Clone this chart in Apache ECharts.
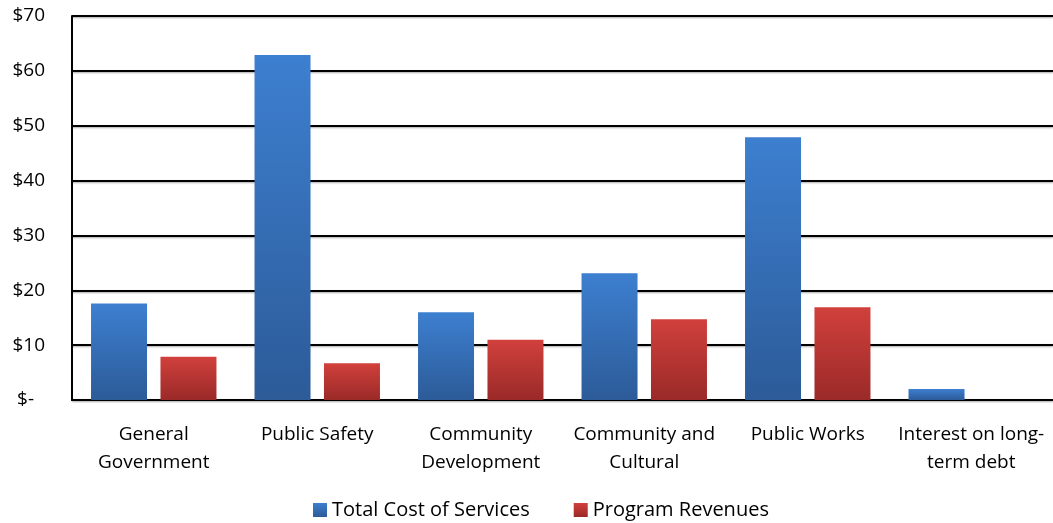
<!DOCTYPE html>
<html><head><meta charset="utf-8">
<script src="https://cdn.jsdelivr.net/npm/echarts@6/dist/echarts.min.js"></script>
<style>html,body{margin:0;padding:0;background:#fff}#c{width:1053px;height:523px}</style>
</head><body><div id="c"></div>
<script>
const categories = ["General\nGovernment", "Public Safety", "Community\nDevelopment", "Community and\nCultural", "Public Works", "Interest on long-\nterm debt"];
const totalCost = [17.6, 62.9, 16.0, 23.1, 47.9, 2.0];
const programRevenues = [7.9, 6.7, 11.0, 14.7, 16.9, 0];
const yTicks = [0, 10, 20, 30, 40, 50, 60, 70];

const FONT = '"Open Sans", Lato, sans-serif';
function grad(top, bottom){
  return new echarts.graphic.LinearGradient(0,0,0,1,[{offset:0,color:top},{offset:1,color:bottom}]);
}
const chart = echarts.init(document.getElementById('c'));
chart.setOption({
  animation:false,
  grid:{left:72,right:0,top:16,bottom:123},
  legend:{
    left:308, bottom:-2, itemWidth:14, itemHeight:14, itemGap:44, icon:'rect',
    textStyle:{fontFamily:FONT,fontSize:20,color:'#000'},
    data:['Total Cost of Services','Program Revenues']
  },
  xAxis:{
    type:'category', data:categories,
    axisLine:{lineStyle:{color:'#000',width:2}},
    axisTick:{show:false},
    axisLabel:{interval:0,fontFamily:FONT,fontSize:19,color:'#000',lineHeight:28,margin:21}
  },
  yAxis:{
    type:'value', min:yTicks[0], max:yTicks[yTicks.length-1], interval:10,
    axisLine:{show:true,lineStyle:{color:'#000',width:2}},
    axisTick:{show:false},
    splitLine:{lineStyle:{color:'#000',width:2,shadowColor:'rgba(0,0,0,0.35)',shadowBlur:2,shadowOffsetY:1}},
    axisLabel:{
      fontFamily:FONT,fontSize:19,color:'#000',margin:27,
      formatter:v=> v===0 ? '{z|$-}' : '$'+v,
      rich:{z:{fontFamily:FONT,fontSize:19,color:'#000',padding:[0,11,0,0]}}
    }
  },
  series:[
    {name:'Total Cost of Services',type:'bar',data:totalCost,barWidth:56,barGap:'24%',
     itemStyle:{color:grad('#3D7FD0','#2C5B98')}},
    {name:'Program Revenues',type:'bar',data:programRevenues,barWidth:56,
     itemStyle:{color:grad('#D1403C','#9A2A28')}}
  ]
});
</script></body></html>
